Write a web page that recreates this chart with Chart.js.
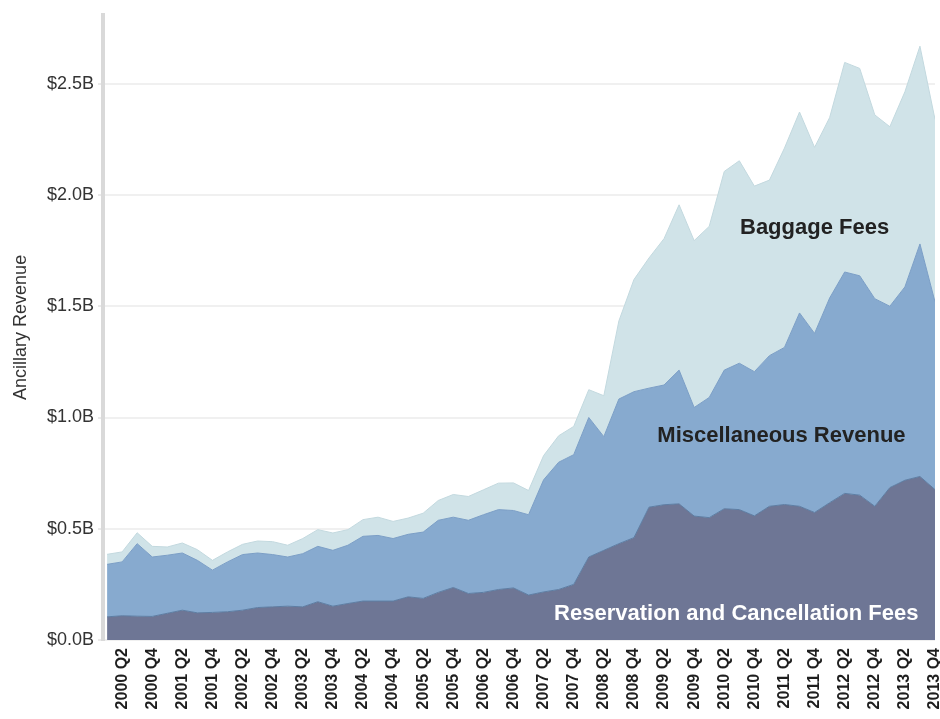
<!DOCTYPE html>
<html>
<head>
<meta charset="utf-8">
<script src="https://cdn.jsdelivr.net/npm/chart.js@4.4.1/dist/chart.umd.min.js"></script>
<style>
  html, body { margin: 0; padding: 0; background: #fff; }
  #wrap { width: 940px; height: 719px; }
</style>
</head>
<body>
<div id="wrap"><canvas id="revenue"></canvas></div>
<script>
// Categories: 2000 Q1 .. 2013 Q4
const years = [2000, 2001, 2002, 2003, 2004, 2005, 2006, 2007, 2008, 2009, 2010, 2011, 2012, 2013];
const quarters = ['Q1', 'Q2', 'Q3', 'Q4'];
const quarterLabels = [];
years.forEach(y => quarters.forEach(q => quarterLabels.push(`${y} ${q}`)));

// Values in billions of dollars
const reservationFees = [
  0.104, 0.109, 0.107, 0.106, 0.120, 0.134, 0.122, 0.124,
  0.127, 0.134, 0.146, 0.149, 0.152, 0.149, 0.172, 0.152,
  0.164, 0.175, 0.175, 0.175, 0.194, 0.187, 0.214, 0.236,
  0.209, 0.214, 0.227, 0.234, 0.202, 0.216, 0.227, 0.250,
  0.373, 0.403, 0.433, 0.460, 0.597, 0.608, 0.612, 0.557,
  0.550, 0.590, 0.586, 0.558, 0.601, 0.609, 0.601, 0.573,
  0.617, 0.659, 0.651, 0.601, 0.685, 0.718, 0.735, 0.676
];
const miscRevenue = [
  0.236, 0.242, 0.326, 0.267, 0.261, 0.257, 0.236, 0.190,
  0.224, 0.250, 0.245, 0.235, 0.221, 0.239, 0.249, 0.251,
  0.262, 0.291, 0.295, 0.281, 0.281, 0.298, 0.324, 0.316,
  0.329, 0.349, 0.359, 0.348, 0.361, 0.504, 0.572, 0.583,
  0.627, 0.511, 0.650, 0.656, 0.535, 0.538, 0.601, 0.488,
  0.540, 0.623, 0.658, 0.648, 0.677, 0.706, 0.869, 0.805,
  0.920, 0.995, 0.986, 0.933, 0.815, 0.869, 1.045, 0.844
];
const baggageFees = [
  0.045, 0.045, 0.049, 0.048, 0.037, 0.045, 0.048, 0.044,
  0.045, 0.046, 0.054, 0.058, 0.053, 0.068, 0.075, 0.078,
  0.070, 0.075, 0.082, 0.077, 0.073, 0.085, 0.089, 0.102,
  0.107, 0.112, 0.119, 0.124, 0.109, 0.109, 0.119, 0.127,
  0.125, 0.184, 0.351, 0.504, 0.585, 0.658, 0.743, 0.750,
  0.769, 0.893, 0.910, 0.834, 0.789, 0.896, 0.903, 0.836,
  0.811, 0.942, 0.932, 0.826, 0.807, 0.877, 0.889, 0.820
];
const yTicks = [0, 0.5, 1.0, 1.5, 2.0, 2.5];

// In-chart labels: [text, quarter index, value, colour]
const areaLabels = [
  ['Baggage Fees', 47.0, 1.85, '#222222'],
  ['Miscellaneous Revenue', 44.8, 0.918, '#222222'],
  ['Reservation and Cancellation Fees', 41.8, 0.116, '#ffffff']
];

const FONT = "'Liberation Sans', Arial, Helvetica, sans-serif";

// quarter index -> value points for the linear x axis
const toPoints = arr => arr.map((v, i) => ({ x: i, y: v }));

const areaLabelPlugin = {
  id: 'areaLabels',
  afterDraw(chart) {
    const { ctx, scales: { x, y } } = chart;
    ctx.save();
    ctx.font = `bold 22px ${FONT}`;
    ctx.textAlign = 'center';
    ctx.textBaseline = 'middle';
    areaLabels.forEach(([text, idx, val, color]) => {
      ctx.fillStyle = color;
      ctx.fillText(text, x.getPixelForValue(idx), y.getPixelForValue(val));
    });
    ctx.restore();
  }
};

const keepYTicks = scale => { scale.ticks = yTicks.map(v => ({ value: v })); };
const keepXTicks = scale => { scale.ticks = quarterLabels.map((l, i) => ({ value: i })); };

new Chart(document.getElementById('revenue'), {
  type: 'line',
  data: {
    datasets: [
      {
        label: 'Reservation and Cancellation Fees',
        data: toPoints(reservationFees),
        backgroundColor: '#6e7695',
        borderColor: '#5d7ea4',
        fill: 'origin'
      },
      {
        label: 'Miscellaneous Revenue',
        data: toPoints(miscRevenue),
        backgroundColor: '#87aacf',
        borderColor: '#7c9fc6',
        fill: '-1'
      },
      {
        label: 'Baggage Fees',
        data: toPoints(baggageFees),
        backgroundColor: '#d0e3e8',
        borderColor: '#c3d9df',
        fill: '-1'
      }
    ]
  },
  options: {
    responsive: true,
    maintainAspectRatio: false,
    animation: false,
    layout: { padding: { top: 13, right: 5, left: 0, bottom: 0 } },
    elements: {
      point: { radius: 0 },
      line: { tension: 0, borderWidth: 1 }
    },
    plugins: {
      legend: { display: false },
      tooltip: { enabled: false }
    },
    scales: {
      x: {
        type: 'linear',
        min: -0.27,
        max: quarterLabels.length - 1,
        z: 1,
        afterBuildTicks: keepXTicks,
        grid: { color: 'rgba(255,255,255,0.3)', lineWidth: 1, drawTicks: false },
        border: { display: false },
        ticks: {
          autoSkip: false,
          minRotation: 90,
          maxRotation: 90,
          padding: 8,
          color: '#1e1e1e',
          font: { family: FONT, size: 16, weight: 'bold' },
          callback: v => (v % 2 === 1 ? quarterLabels[v] : '')
        },
        afterFit: s => { s.height = 79; s.paddingLeft = 0; s.paddingRight = 0; }
      },
      y: {
        stacked: true,
        min: 0,
        max: 2.81,
        afterBuildTicks: keepYTicks,
        grid: { color: '#ebebeb', lineWidth: 2, tickLength: 5, tickColor: '#d4d4d4', tickWidth: 1 },
        border: { display: true, color: '#d9d9d9', width: 4 },
        ticks: {
          padding: 4,
          color: '#333333',
          font: { family: FONT, size: 18 },
          callback: v => '$' + Number(v).toFixed(1) + 'B'
        },
        title: {
          display: true,
          text: 'Ancillary Revenue',
          color: '#333333',
          padding: { top: 10, bottom: 0 },
          font: { family: FONT, size: 18 }
        },
        afterFit: s => { s.width = 103; }
      },
      yOverlay: {
        position: 'left',
        z: 1,
        min: 0,
        max: 2.81,
        afterBuildTicks: keepYTicks,
        grid: { color: 'rgba(255,255,255,0.28)', lineWidth: 2, drawTicks: false },
        border: { display: false },
        ticks: { display: false },
        afterFit: s => { s.width = 0; }
      }
    }
  },
  plugins: [areaLabelPlugin]
});
</script>
</body>
</html>
